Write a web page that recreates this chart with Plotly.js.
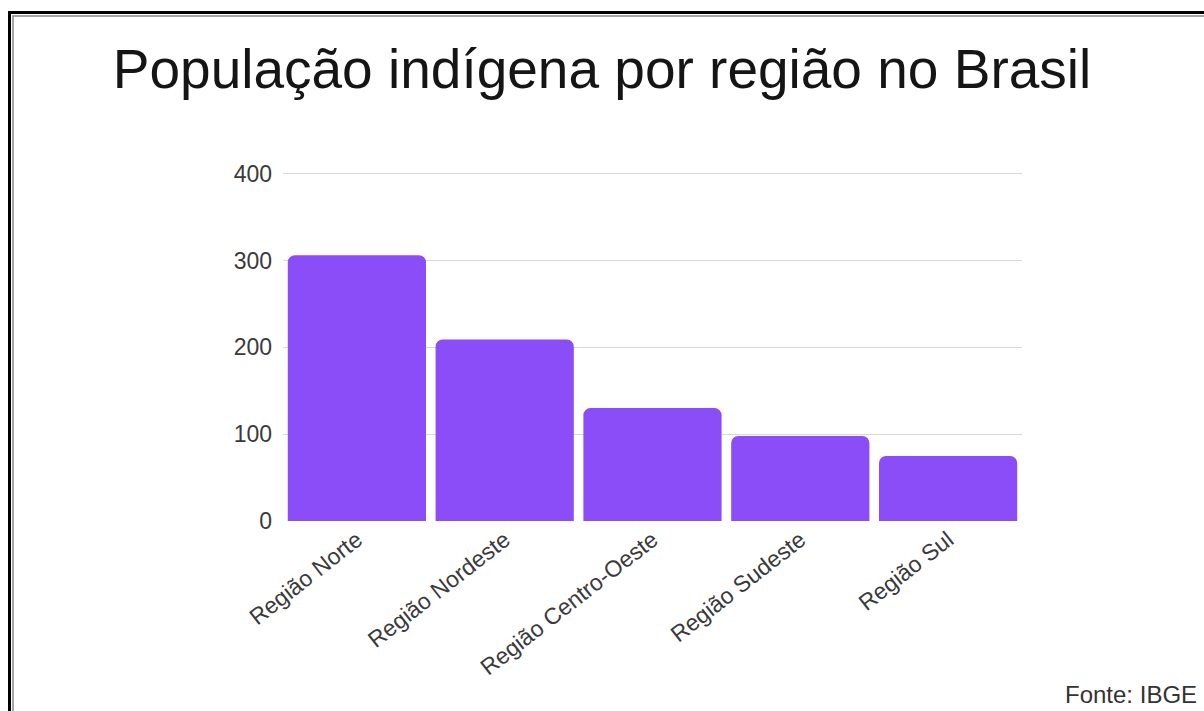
<!DOCTYPE html>
<html>
<head>
<meta charset="utf-8">
<script src="https://cdn.plot.ly/plotly-3.0.1.min.js"></script>
<style>
  html, body { margin: 0; padding: 0; background: #fff; }
  #chart { width: 1204px; height: 711px; }
</style>
</head>
<body>
<div id="chart"></div>
<script>
const regioes = ["Região Norte", "Região Nordeste", "Região Centro-Oeste", "Região Sudeste", "Região Sul"];
const populacao = [306, 209, 130, 98, 75];
const yTicks = [0, 100, 200, 300, 400];
const tituloTexto = "População indígena por região no Brasil";
const fonteTexto = "Fonte: IBGE";

const W = 1204, H = 711;
const M = { l: 283, r: 182, t: 165, b: 190 };
const pw = W - M.l - M.r, ph = H - M.t - M.b;
const px = x => (x - M.l) / pw;
const py = y => (H - M.b - y) / ph;

const trace = {
  type: 'bar',
  x: regioes,
  y: populacao,
  marker: { color: '#8a4df7', cornerradius: 7 },
  hoverinfo: 'x+y'
};

const layout = {
  width: W, height: H,
  margin: M,
  paper_bgcolor: '#ffffff',
  plot_bgcolor: '#ffffff',
  showlegend: false,
  bargap: 0.065,
  font: { family: 'Liberation Sans, Arial, sans-serif', color: '#444' },
  title: {
    text: tituloTexto,
    font: { family: 'Liberation Sans, Arial, sans-serif', size: 55, color: '#151515' },
    x: 0.5, xref: 'container', xanchor: 'center',
    y: 1 - 69 / H, yref: 'container', yanchor: 'middle'
  },
  xaxis: {
    type: 'category',
    tickangle: -38,
    tickfont: { size: 23, color: '#3a3a3a' },
    showgrid: false,
    showline: false,
    ticks: '',
    automargin: false
  },
  yaxis: {
    range: [0, 410],
    tickvals: yTicks,
    ticktext: yTicks.map(String),
    tickfont: { size: 23, color: '#3a3a3a' },
    showgrid: true,
    gridcolor: '#d9d9d9',
    gridwidth: 1,
    zeroline: false,
    showline: false,
    ticks: '',
    ticklabelstandoff: 10,
    automargin: false
  },
  annotations: [{
    text: fonteTexto,
    xref: 'paper', yref: 'paper',
    x: px(1199), y: py(694),
    xanchor: 'right', yanchor: 'middle',
    showarrow: false,
    font: { size: 24, color: '#333' }
  }],
  shapes: [
    { type: 'rect', xref: 'paper', yref: 'paper',
      x0: px(9.5), x1: px(1240), y0: py(760), y1: py(12.5),
      line: { color: '#000', width: 3 }, layer: 'above' },
    { type: 'rect', xref: 'paper', yref: 'paper',
      x0: px(13), x1: px(1240), y0: py(760), y1: py(16),
      line: { color: '#888', width: 1.5 }, layer: 'above' }
  ]
};

Plotly.newPlot('chart', [trace], layout, { displayModeBar: false, staticPlot: true });
</script>
</body>
</html>
